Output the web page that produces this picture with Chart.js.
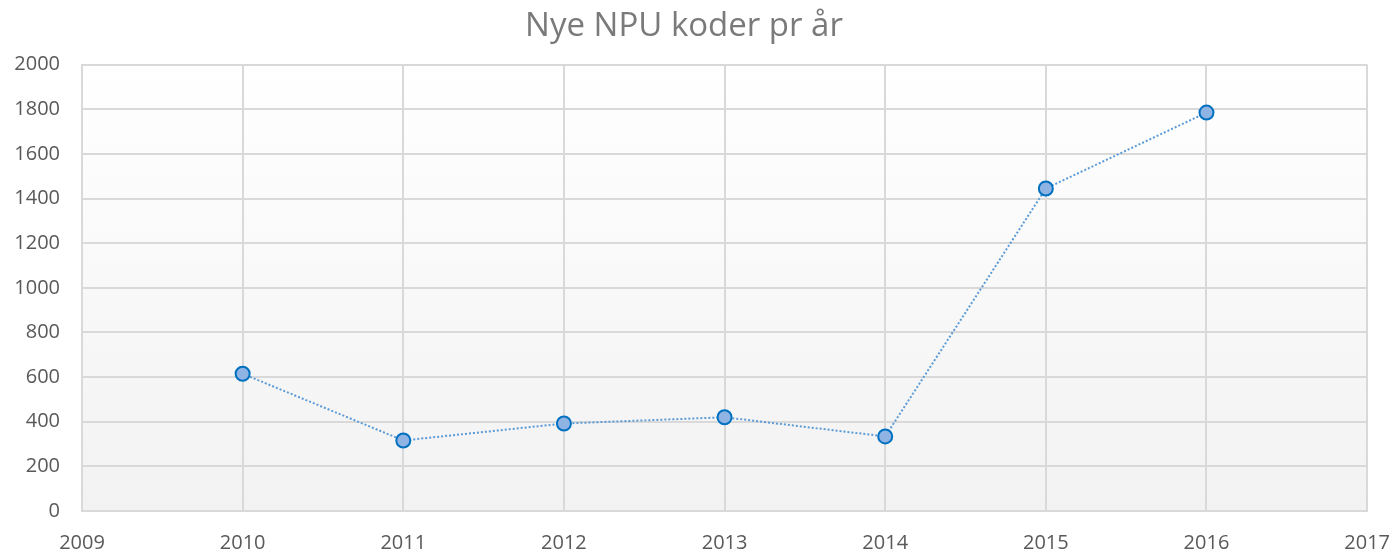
<!DOCTYPE html>
<html>
<head>
<meta charset="utf-8">
<script src="https://cdn.jsdelivr.net/npm/chart.js@4.4.1/dist/chart.umd.min.js"></script>
<style>
  body { margin: 0; background: #fff; }
  canvas { display: block; }
</style>
</head>
<body>
<canvas id="grafico" width="1394" height="552"></canvas>
<script>
// Dados do grafico
const anos = [2010, 2011, 2012, 2013, 2014, 2015, 2016];
const novosKoder = [615, 316, 392, 420, 334, 1445, 1785];
const ticksX = [2009, 2010, 2011, 2012, 2013, 2014, 2015, 2016, 2017];
const ticksY = [0, 200, 400, 600, 800, 1000, 1200, 1400, 1600, 1800, 2000];
const titulo = 'Nye NPU koder pr år';

const pontos = anos.map((a, i) => ({ x: a, y: novosKoder[i] }));

// fundo com gradiente dentro da area do grafico
const fundoGradiente = {
    id: 'fundoGradiente',
    beforeDraw(chart) {
        const { ctx, chartArea } = chart;
        const g = ctx.createLinearGradient(0, chartArea.top, 0, chartArea.bottom);
        g.addColorStop(0, '#ffffff');
        g.addColorStop(1, '#f2f2f2');
        ctx.save();
        ctx.fillStyle = g;
        ctx.fillRect(chartArea.left, chartArea.top, chartArea.right - chartArea.left, chartArea.bottom - chartArea.top);
        ctx.restore();
    }
};

const fonte = "'Open Sans', sans-serif";

new Chart(document.querySelector('#grafico'), {
    type: 'scatter',
    data: {
        datasets: [{
            data: pontos,
            showLine: true,
            borderColor: '#5b9bd5',
            borderWidth: 2,
            borderDash: [2, 2],
            pointRadius: 7,
            pointBorderWidth: 2,
            pointBackgroundColor: '#8fb4e3',
            pointBorderColor: '#0070c0'
        }]
    },
    options: {
        responsive: false,
        animation: false,
        layout: { padding: { left: 0, right: 26, top: 0, bottom: 0 } },
        plugins: {
            legend: { display: false },
            tooltip: { enabled: false },
            title: {
                display: true,
                text: titulo,
                color: '#7a7a7a',
                font: { family: fonte, size: 33, weight: 'normal' },
                padding: { top: 7, bottom: 18 }
            }
        },
        scales: {
            x: {
                type: 'linear',
                min: 2009,
                max: 2017,
                afterBuildTicks: (axis) => { axis.ticks = ticksX.map(v => ({ value: v })); },
                afterFit: (axis) => { axis.height = 41; },
                ticks: {
                    color: '#595959',
                    font: { family: fonte, size: 20 },
                    padding: 4,
                    maxRotation: 0,
                    callback: (v) => String(v)
                },
                grid: { color: '#d9d9d9', lineWidth: 2, drawTicks: true, tickLength: 16, tickColor: 'rgba(0,0,0,0)' },
                border: { color: '#d9d9d9', width: 2 }
            },
            y: {
                min: 0,
                max: 2000,
                afterBuildTicks: (axis) => { axis.ticks = ticksY.map(v => ({ value: v })); },
                afterFit: (axis) => { axis.width = 82; },
                ticks: {
                    color: '#595959',
                    font: { family: fonte, size: 20 },
                    padding: 22,
                    callback: (v) => String(v)
                },
                grid: { color: '#d9d9d9', lineWidth: 2, drawTicks: false },
                border: { color: '#d9d9d9', width: 2 }
            }
        }
    },
    plugins: [fundoGradiente]
});
</script>
</body>
</html>
